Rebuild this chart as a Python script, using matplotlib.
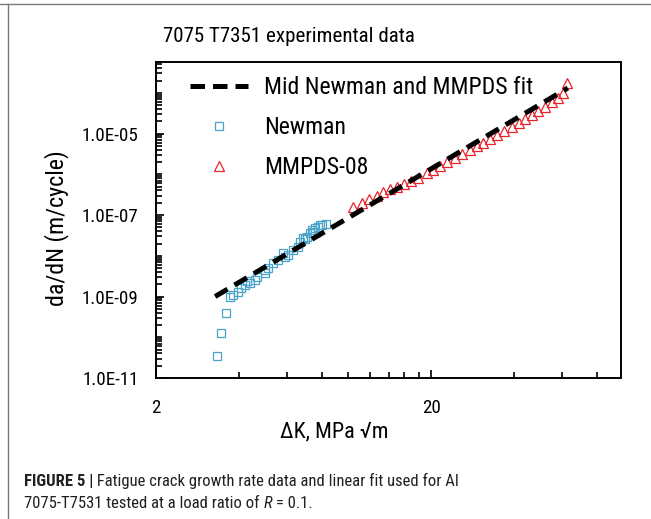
import matplotlib
matplotlib.use("Agg")
import matplotlib.pyplot as plt
from matplotlib import font_manager as fm
from matplotlib.lines import Line2D
from matplotlib.ticker import FixedLocator, FixedFormatter, NullFormatter

# ---------------- data ----------------
title = "7075 T7351 experimental data"
xlabel = "ΔK, MPa √m"
ylabel = "da/dN (m/cycle)"

newman_dk = [3.33, 3.45, 3.60, 3.72, 3.82, 3.96, 4.06, 4.21, 4.39, 4.58, 4.65, 4.98,
             5.12, 5.34, 5.57, 5.81, 6.06, 6.31, 6.58, 6.68, 6.86, 7.06, 7.26, 7.47,
             7.57, 7.78, 8.01, 8.30, 4.30, 5.00, 5.90, 6.95, 7.40, 7.90]
newman_dadn = [3.47e-11, 1.25e-10, 4.0e-10, 9.5e-10, 1.09e-9, 1.31e-9, 1.59e-9, 1.91e-9,
               2.11e-9, 2.54e-9, 3.06e-9, 3.84e-9, 4.92e-9, 6.53e-9, 7.87e-9, 1.15e-8,
               1.04e-8, 1.38e-8, 1.67e-8, 2.21e-8, 2.68e-8, 2.93e-8, 3.56e-8, 3.89e-8,
               4.72e-8, 5.16e-8, 5.69e-8, 6.01e-8, 2.4e-9, 4.4e-9, 9.5e-9, 2.6e-8,
               4.3e-8, 5.6e-8]

mmpds_dk = [10.44, 11.20, 11.93, 12.69, 13.42, 14.19, 15.01, 15.95, 16.92, 17.98,
            19.29, 20.39, 21.56, 22.81, 24.45, 25.86, 27.74, 29.33, 31.00, 32.78,
            34.66, 36.87, 39.32, 41.56, 43.95, 46.47, 49.12, 51.95, 54.93, 58.06,
            60.54, 62.60]
mmpds_dadn = [1.60e-7, 2.00e-7, 2.45e-7, 3.00e-7, 3.60e-7, 4.25e-7, 5.00e-7, 5.90e-7,
              7.0e-7, 8.3e-7, 1.06e-6, 1.30e-6, 1.56e-6, 1.95e-6, 2.55e-6, 3.15e-6,
              4.00e-6, 4.90e-6, 6.00e-6, 7.30e-6, 9.20e-6, 1.18e-5, 1.45e-5, 1.82e-5,
              2.28e-5, 2.85e-5, 3.50e-5, 4.50e-5, 5.80e-5, 7.50e-5, 9.8e-5, 1.70e-4]

fit_dk = [3.28, 62.8]
fit_dadn = [1.0e-9, 1.31e-4]

legend_labels = ["Mid Newman and MMPDS fit", "Newman", "MMPDS-08"]

x_major = [2, 20]
x_major_labels = ["2", "20"]
x_minor = [4, 6, 8, 10, 12, 14, 16, 18, 40, 60, 80]
y_major = [1e-11, 1e-9, 1e-7, 1e-5]
y_major_labels = ["1.0E-11", "1.0E-09", "1.0E-07", "1.0E-05"]
y_minor = [k * 10.0 ** e for e in range(-11, -3) for k in range(1, 10)]

caption_bold = "FIGURE 5 |"
caption_line1 = " Fatigue crack growth rate data and linear fit used for Al"
caption_line2a = "7075-T7531 tested at a load ratio of "
caption_line2b = "R"
caption_line2c = " = 0.1."

# ---------------- fonts ----------------
def has_font(name):
    try:
        fm.findfont(fm.FontProperties(family=name), fallback_to_default=False)
        return True
    except Exception:
        return False

cap_font = "Liberation Sans"
for cand in ["Liberation Sans Narrow", "Roboto Condensed", "Roboto"]:
    if has_font(cand):
        cap_font = cand
        break
chart_font = cap_font

plt.rcParams["font.family"] = [chart_font, "DejaVu Sans"]

W, H = 651, 519
fig = plt.figure(figsize=(W / 100, H / 100), dpi=100)
fig.canvas.draw()
r = fig.canvas.get_renderer()


def fx(px):
    return px / W


def fy(py):
    return 1 - py / H


def fit_size(txt_list, target_px, base=12.0, **kw):
    """font size so that the given text pieces span target_px"""
    total = 0
    for t, extra in txt_list:
        a = fig.text(0, 0, t, fontsize=base, **{**kw, **extra})
        total += a.get_window_extent(r).width
        a.remove()
    return base * target_px / total


# frame lines
fig.add_artist(Line2D([0, 1], [fy(4), fy(4)], transform=fig.transFigure,
                      color="#7a7a7a", lw=1.0))
fig.add_artist(Line2D([fx(8), fx(8)], [fy(4), 0], transform=fig.transFigure,
                      color="#7a7a7a", lw=1.0))

ax = fig.add_axes([fx(156), fy(378), fx(621) - fx(156), fy(62) - fy(378)])
ax.set_xscale("log")
ax.set_yscale("log")
ax.set_xlim(2, 98)
ax.set_ylim(1e-11, 5.7e-4)

ax.plot(fit_dk, fit_dadn, color="black", lw=3.6, dashes=(2.9, 1.6),
        label=legend_labels[0], zorder=3)
ax.plot(newman_dk, newman_dadn, ls="none", marker="s", ms=6.4, mfc="none",
        mec="#4aa3c9", mew=0.9, label=legend_labels[1], zorder=2)
ax.plot(mmpds_dk, mmpds_dadn, ls="none", marker="^", ms=7.6, mfc="none",
        mec="#e8232b", mew=0.9, label=legend_labels[2], zorder=2)

tick_size = fit_size([("1.0E-05", {})], 56)
leg_size = fit_size([(legend_labels[0], {})], 268)
xl_size = fit_size([(xlabel, {})], 108)
yl_size = fit_size([(ylabel, {})], 155)
title_size = fit_size([(title, {})], 252)

ax.xaxis.set_major_locator(FixedLocator(x_major))
ax.xaxis.set_major_formatter(FixedFormatter(x_major_labels))
ax.xaxis.set_minor_locator(FixedLocator(x_minor))
ax.xaxis.set_minor_formatter(NullFormatter())
ax.yaxis.set_major_locator(FixedLocator(y_major))
ax.yaxis.set_major_formatter(FixedFormatter(y_major_labels))
ax.yaxis.set_minor_locator(FixedLocator(y_minor))
ax.yaxis.set_minor_formatter(NullFormatter())

ax.tick_params(which="both", direction="in", width=1.2, colors="black")
ax.tick_params(which="major", length=5.5)
ax.tick_params(which="minor", length=4)
ax.tick_params(axis="y", labelsize=tick_size, pad=12.5)
ax.tick_params(axis="x", labelsize=tick_size, pad=15)
for s in ax.spines.values():
    s.set_linewidth(1.4)
    s.set_color("black")

leg = ax.legend(loc="upper left", bbox_to_anchor=((190 - 156) / 465, (378 - 76) / 316),
                frameon=False, fontsize=leg_size, borderpad=0, borderaxespad=0,
                handlelength=58 / (leg_size * 1.389), handletextpad=16 / (leg_size * 1.389),
                labelspacing=0.72, numpoints=1)

fig.text(fx(289), fy(37), title, ha="center", va="center", fontsize=title_size)
fig.text(fx(57), fy(228), ylabel, ha="center", va="center", rotation=90, fontsize=yl_size)
fig.text(fx(334), fy(432), xlabel, ha="center", va="center", fontsize=xl_size)

# caption
cap_color = "#231f20"
cap_size = fit_size([(caption_bold, {"fontweight": "bold"}), (caption_line1, {})], 433,
                    family=cap_font)
t1 = fig.text(fx(24), fy(481), caption_bold, ha="left", va="center", fontsize=cap_size,
              fontweight="bold", family=cap_font, color=cap_color)
bb = t1.get_window_extent(r)
fig.text(bb.x1 / W, fy(481), caption_line1, ha="left", va="center", fontsize=cap_size,
         family=cap_font, color=cap_color)
t2 = fig.text(fx(24), fy(504), caption_line2a, ha="left", va="center", fontsize=cap_size,
              family=cap_font, color=cap_color)
bb2 = t2.get_window_extent(r)
t3 = fig.text(bb2.x1 / W, fy(504), caption_line2b, ha="left", va="center", fontsize=cap_size,
              family=cap_font, style="italic", color=cap_color)
bb3 = t3.get_window_extent(r)
fig.text(bb3.x1 / W, fy(504), caption_line2c, ha="left", va="center", fontsize=cap_size,
         family=cap_font, color=cap_color)

fig.savefig("out.png", dpi=100)
